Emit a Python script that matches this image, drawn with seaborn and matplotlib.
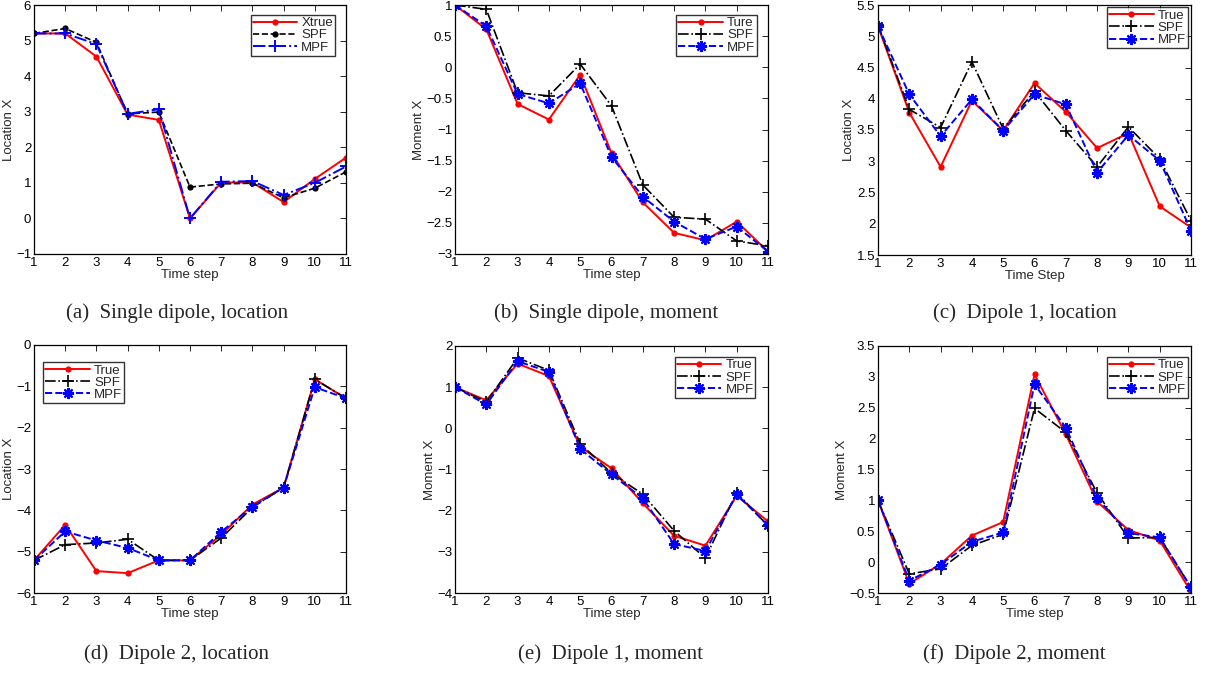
from matplotlib import pyplot as plt
import seaborn as sns
import numpy as np

##### Data (time steps 1..11)
steps = list(range(1, 12))

# (a) Single dipole, location
a_true = [5.2, 5.2, 4.55, 2.92, 2.77, 0.0, 1.01, 1.01, 0.46, 1.11, 1.71]
a_spf = [5.2, 5.34, 4.95, 2.94, 2.99, 0.88, 0.97, 0.99, 0.58, 0.85, 1.31]
a_mpf = [5.2, 5.2, 4.9, 2.94, 3.07, 0.0, 1.03, 1.05, 0.66, 1.0, 1.46]

# (b) Single dipole, moment
b_true = [1.0, 0.61, -0.59, -0.84, -0.12, -1.38, -2.17, -2.66, -2.78, -2.48, -2.96]
b_spf = [1.0, 0.93, -0.41, -0.46, 0.05, -0.62, -1.89, -2.41, -2.44, -2.79, -2.87]
b_mpf = [1.0, 0.66, -0.43, -0.58, -0.26, -1.44, -2.08, -2.48, -2.76, -2.56, -2.96]

# (c) Dipole 1, location
c_true = [5.16, 3.78, 2.91, 3.97, 3.49, 4.25, 3.79, 3.21, 3.45, 2.28, 1.94]
c_spf = [5.18, 3.83, 3.54, 4.59, 3.52, 4.12, 3.49, 2.91, 3.55, 3.04, 2.05]
c_mpf = [5.16, 4.07, 3.40, 3.99, 3.49, 4.07, 3.91, 2.82, 3.42, 3.01, 1.89]

# (d) Dipole 2, location
d_true = [-5.21, -4.35, -5.47, -5.52, -5.21, -5.21, -4.59, -3.86, -3.45, -0.83, -1.29]
d_spf = [-5.21, -4.83, -4.79, -4.70, -5.21, -5.21, -4.67, -3.93, -3.45, -0.83, -1.29]
d_mpf = [-5.21, -4.51, -4.73, -4.91, -5.21, -5.21, -4.52, -3.91, -3.45, -1.02, -1.29]

# (e) Dipole 1, moment
e_true = [1.0, 0.68, 1.57, 1.27, -0.45, -0.97, -1.82, -2.61, -2.85, -1.64, -2.26]
e_spf = [1.0, 0.64, 1.71, 1.41, -0.37, -1.09, -1.60, -2.49, -3.15, -1.56, -2.37]
e_mpf = [1.0, 0.58, 1.63, 1.37, -0.50, -1.12, -1.70, -2.81, -2.98, -1.60, -2.36]

# (f) Dipole 2, moment
f_true = [1.0, -0.35, -0.03, 0.43, 0.65, 3.04, 2.07, 0.98, 0.52, 0.35, -0.48]
f_spf = [1.0, -0.19, -0.11, 0.27, 0.45, 2.49, 2.10, 1.12, 0.39, 0.40, -0.41]
f_mpf = [1.0, -0.30, -0.04, 0.33, 0.48, 2.88, 2.18, 1.04, 0.47, 0.40, -0.41]

sns.set_style('white')
plt.rcParams['font.family'] = ['Liberation Sans', 'DejaVu Sans']

W, H = 1205, 673
fig = plt.figure(figsize=(W / 100, H / 100), dpi=100)

def px_axes(x0, y0, x1, y1):
    return fig.add_axes([x0 / W, 1 - y1 / H, (x1 - x0) / W, (y1 - y0) / H])

ASTER = (8, 2, 0)  # matlab style asterisk

def draw(ax, true, spf, mpf, names, spf_style, mpf_style, ylim, yticks, ylabel, xlabel,
         leg_anchor, leg_loc='upper right'):
    sns.lineplot(x=steps, y=true, ax=ax, color='red', linestyle='-', marker='o',
                 markersize=4.5, markeredgewidth=0, lw=1.4, label=names[0])
    sns.lineplot(x=steps, y=spf, ax=ax, color='black', lw=1.2, label=names[1],
                 markeredgecolor='black', markerfacecolor='black', **spf_style)
    sns.lineplot(x=steps, y=mpf, ax=ax, color='blue', lw=1.4, label=names[2],
                 markeredgecolor='blue', markerfacecolor='blue', **mpf_style)
    ax.set_xlim(1, 11)
    ax.set_ylim(*ylim)
    ax.set_xticks(steps)
    ax.set_yticks(yticks)
    ax.set_yticklabels([('%g' % t).replace('-', '\u2212') for t in yticks])
    ax.tick_params(direction='in', top=True, right=True, length=4, width=0.6,
                   labelsize=9.5, pad=2, colors='black')
    for s in ax.spines.values():
        s.set_color('black')
        s.set_linewidth(0.9)
    ax.set_ylabel(ylabel, fontsize=9.5, labelpad=1)
    ax.set_xlabel(xlabel, fontsize=9.5, labelpad=0.5)
    leg = ax.legend(loc=leg_loc, bbox_to_anchor=leg_anchor, fontsize=9.5, frameon=True,
                    fancybox=False, edgecolor='black', handlelength=3.4, handletextpad=0.3,
                    borderpad=0.15, labelspacing=0.0, borderaxespad=0)
    leg.get_frame().set_linewidth(1.0)

dot_dash = dict(linestyle='--', dashes=(4, 3), marker='o', markersize=4.5, markeredgewidth=0)
plus_dashdot = dict(linestyle='-.', dashes=(5, 2, 1, 2), marker='+', markersize=9, markeredgewidth=1.4)
plus_dashdot_k = dict(linestyle='-.', dashes=(5, 2, 1, 2), marker='+', markersize=8, markeredgewidth=1.2)
aster_dash = dict(linestyle='--', dashes=(4, 3), marker=ASTER, markersize=8, markeredgewidth=1.5)

# top row
ax = px_axes(34, 5, 346, 254)
draw(ax, a_true, a_spf, a_mpf, ['Xtrue', 'SPF', 'MPF'], dot_dash, plus_dashdot,
     (-1, 6), list(range(-1, 7)), 'Location X', 'Time step', (0.965, 0.96))

ax = px_axes(455, 5, 768, 254)
draw(ax, b_true, b_spf, b_mpf, ['Ture', 'SPF', 'MPF'], plus_dashdot_k, aster_dash,
     (-3, 1), list(np.arange(-3, 1.01, 0.5)), 'Moment X', 'Time step', (0.965, 0.96))

ax = px_axes(878, 5, 1191, 255)
draw(ax, c_true, c_spf, c_mpf, ['True', 'SPF', 'MPF'], plus_dashdot_k, aster_dash,
     (1.5, 5.5), list(np.arange(1.5, 5.51, 0.5)), 'Location X', 'Time Step', (0.99, 0.99))

# bottom row
ax = px_axes(34, 345, 346, 593)
draw(ax, d_true, d_spf, d_mpf, ['True', 'SPF', 'MPF'], plus_dashdot_k, aster_dash,
     (-6, 0), list(range(-6, 1)), 'Location X', 'Time step', (0.03, 0.93), 'upper left')

ax = px_axes(455, 346, 768, 593)
draw(ax, e_true, e_spf, e_mpf, ['True', 'SPF', 'MPF'], plus_dashdot_k, aster_dash,
     (-4, 2), list(range(-4, 3)), 'Moment X', 'Time step', (0.96, 0.955))

ax = px_axes(878, 346, 1191, 593)
draw(ax, f_true, f_spf, f_mpf, ['True', 'SPF', 'MPF'], plus_dashdot_k, aster_dash,
     (-0.5, 3.5), list(np.arange(-0.5, 3.51, 0.5)), 'Moment X', 'Time step', (0.99, 0.955))

# sub-captions
captions = [(177, 313, '(a)  Single dipole, location'),
            (606, 313, '(b)  Single dipole, moment'),
            (1025, 313, '(c)  Dipole 1, location'),
            (177, 654, '(d)  Dipole 2, location'),
            (611, 654, '(e)  Dipole 1, moment'),
            (1014, 654, '(f)  Dipole 2, moment')]
for cx, cy, txt in captions:
    fig.text(cx / W, 1 - cy / H, txt, ha='center', va='center', fontsize=15,
             family=['Liberation Serif', 'DejaVu Serif'])

plt.savefig('out.png', dpi=100)
